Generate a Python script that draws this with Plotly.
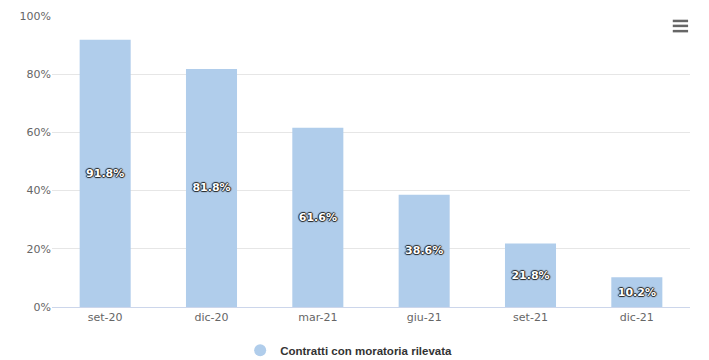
import plotly.graph_objects as go

categories = ["set-20", "dic-20", "mar-21", "giu-21", "set-21", "dic-21"]
values = [91.8, 81.8, 61.6, 38.6, 21.8, 10.2]
series_name = "Contratti con moratoria rilevata"
y_ticks = [0, 20, 40, 60, 80, 100]
y_tick_labels = [f"{t}%" for t in y_ticks]

fig = go.Figure()
fig.add_trace(go.Bar(
    x=categories, y=values, name=series_name,
    marker=dict(color="#b0cdeb", line=dict(width=0)),
    text=[f"{v:.1f}%" for v in values],
    textposition="inside", insidetextanchor="middle",
    textangle=0,
    textfont=dict(family="DejaVu Sans", size=11, color="#ffffff", weight="bold",
                  shadow="-1px 0 1px #222, 1px 0 1px #222, 0 1px 1px #222, 0 -1px 1px #222"),
    width=0.48,
    showlegend=False,
    hoverinfo="x+y",
))
# legend entry with circle symbol
fig.add_trace(go.Scatter(
    x=[None], y=[None], mode="markers", name=series_name,
    marker=dict(symbol="circle", size=11, color="#b0cdeb"),
    showlegend=True,
))

# hamburger menu icon
for yy in [0.983, 0.966, 0.948]:
    fig.add_shape(type="line", xref="paper", yref="paper",
                  x0=0.973, x1=0.997, y0=yy, y1=yy,
                  line=dict(color="#666666", width=2.5))

fig.update_layout(
    width=701, height=352,
    margin=dict(l=44, r=19, t=8, b=53, autoexpand=False),
    paper_bgcolor="white", plot_bgcolor="white",
    font=dict(family="DejaVu Sans", size=11, color="#666666"),
    bargap=0.52,
    legend=dict(orientation="h", x=0.465, xanchor="center",
                yref="container", y=0.028, yanchor="middle",
                font=dict(size=11.5, color="#333333", family="Liberation Sans", weight="bold"),
                itemsizing="constant"),
    xaxis=dict(showgrid=False, showline=True, linecolor="#ccd6eb", linewidth=1,
               ticks="", automargin=False, tickfont=dict(size=11, color="#666666")),
    yaxis=dict(range=[0, 100], tickvals=y_ticks, ticktext=y_tick_labels,
               showgrid=True, gridcolor="#e6e6e6", gridwidth=1,
               zeroline=False, showline=False, ticks="", automargin=False,
               tickfont=dict(size=11, color="#666666")),
)
fig.write_html("out.html")
